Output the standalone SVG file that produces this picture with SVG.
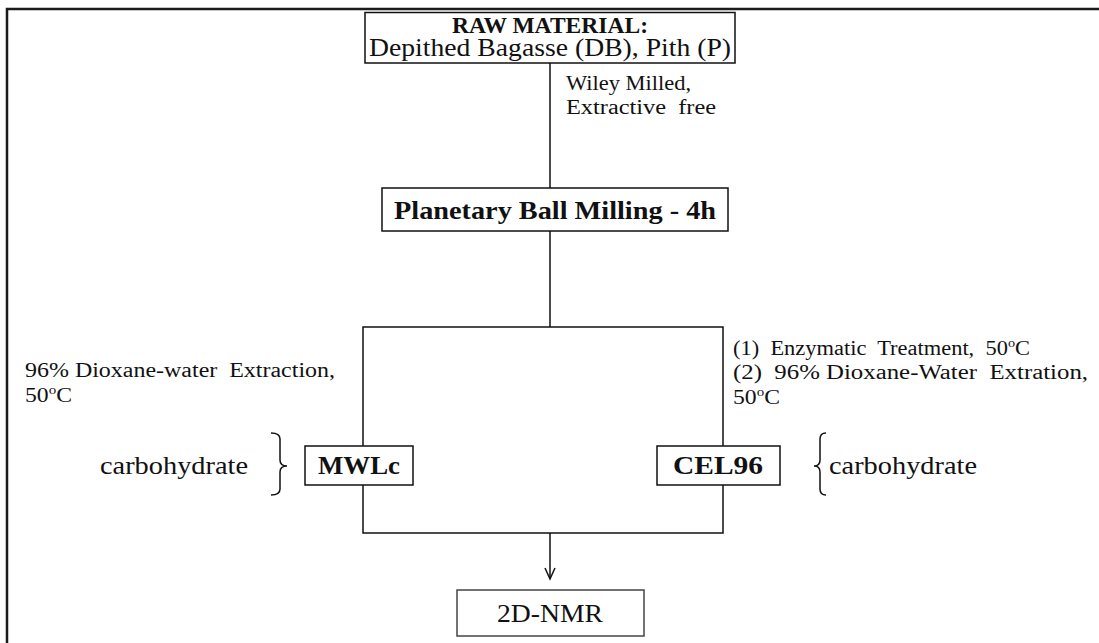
<svg xmlns="http://www.w3.org/2000/svg" width="1099" height="643" viewBox="0 0 1099 643">
<style>
text{font-family:"Liberation Serif","Times New Roman",serif;fill:#111}
.box{fill:#fff;stroke:#111;stroke-width:1.5}
.ln{fill:none;stroke:#111;stroke-width:1.5}
.b{font-weight:bold}
.big{font-size:25px}
.sm{font-size:20.5px}
</style>
<rect width="1099" height="643" fill="#fff"/>
<path d="M7,643 V9 H1099" fill="none" stroke="#1a1a1a" stroke-width="2.5"/>
<g id="connectors">
<path class="ln" d="M550,63 V188"/>
<path class="ln" d="M550,231 V327"/>
<path class="ln" d="M363,446 V327 H723 V446"/>
<path class="ln" d="M363,485 V533 H723 V485"/>
<path class="ln" d="M550,533 V579"/>
<path class="ln" d="M545,568 L550,579 L555,568"/>
</g>
<g id="raw">
<rect class="box" x="365" y="12.5" width="370" height="50.5"/>
<text class="b" x="550" y="33" font-size="23" text-anchor="middle" textLength="196" lengthAdjust="spacingAndGlyphs">RAW MATERIAL:</text>
<text class="big" x="550" y="56" text-anchor="middle" textLength="362" lengthAdjust="spacingAndGlyphs">Depithed Bagasse (DB), Pith (P)</text>
</g>
<g id="label-wiley">
<text class="sm" x="566" y="90" textLength="125" lengthAdjust="spacingAndGlyphs">Wiley Milled,</text>
<text class="sm" x="566" y="114" textLength="150" lengthAdjust="spacingAndGlyphs" xml:space="preserve">Extractive  free</text>
</g>
<g id="planetary">
<rect class="box" x="382" y="188" width="346" height="43"/>
<text class="b" x="555" y="219" font-size="26" text-anchor="middle" textLength="322" lengthAdjust="spacingAndGlyphs">Planetary Ball Milling - 4h</text>
</g>
<g id="label-dioxane">
<text class="sm" x="25" y="377" textLength="310" lengthAdjust="spacingAndGlyphs" xml:space="preserve">96% Dioxane-water  Extraction,</text>
<text class="sm" x="25" y="402" textLength="47" lengthAdjust="spacingAndGlyphs">50<tspan font-size="13" dy="-8">o</tspan><tspan dy="8">C</tspan></text>
</g>
<g id="label-enzymatic">
<text class="sm" x="733" y="355" textLength="297" lengthAdjust="spacingAndGlyphs" xml:space="preserve">(1)  Enzymatic  Treatment,  50<tspan font-size="13" dy="-8">o</tspan><tspan dy="8">C</tspan></text>
<text class="sm" x="733" y="379" textLength="355" lengthAdjust="spacingAndGlyphs" xml:space="preserve">(2)  96% Dioxane-Water  Extration,</text>
<text class="sm" x="733" y="404" textLength="47" lengthAdjust="spacingAndGlyphs">50<tspan font-size="13" dy="-8">o</tspan><tspan dy="8">C</tspan></text>
</g>
<g id="mwlc">
<rect class="box" x="305" y="446" width="108" height="39"/>
<text class="b big" x="359" y="474" text-anchor="middle" textLength="82" lengthAdjust="spacingAndGlyphs">MWLc</text>
</g>
<g id="mwlc-carb">
<path class="ln" d="M271,433 Q280,433 280,439 V460 Q280,466 287,466 Q280,466 280,472 V489 Q280,495 271,495"/>
<text class="big" x="100" y="474" textLength="148" lengthAdjust="spacingAndGlyphs">carbohydrate</text>
</g>
<g id="cel96">
<rect class="box" x="657" y="446" width="123" height="39"/>
<text class="b big" x="718" y="474" text-anchor="middle" textLength="90" lengthAdjust="spacingAndGlyphs">CEL96</text>
</g>
<g id="cel96-carb">
<path class="ln" d="M826,433 Q820,433 820,439 V460 Q820,466 814,466 Q820,466 820,472 V489 Q820,495 826,495"/>
<text class="big" x="829" y="474" textLength="148" lengthAdjust="spacingAndGlyphs">carbohydrate</text>
</g>
<g id="nmr">
<rect x="457" y="590" width="187" height="46" fill="#fff" stroke="#444" stroke-width="1.5"/>
<text class="big" x="550" y="622" text-anchor="middle" textLength="106" lengthAdjust="spacingAndGlyphs">2D-NMR</text>
</g>
</svg>
